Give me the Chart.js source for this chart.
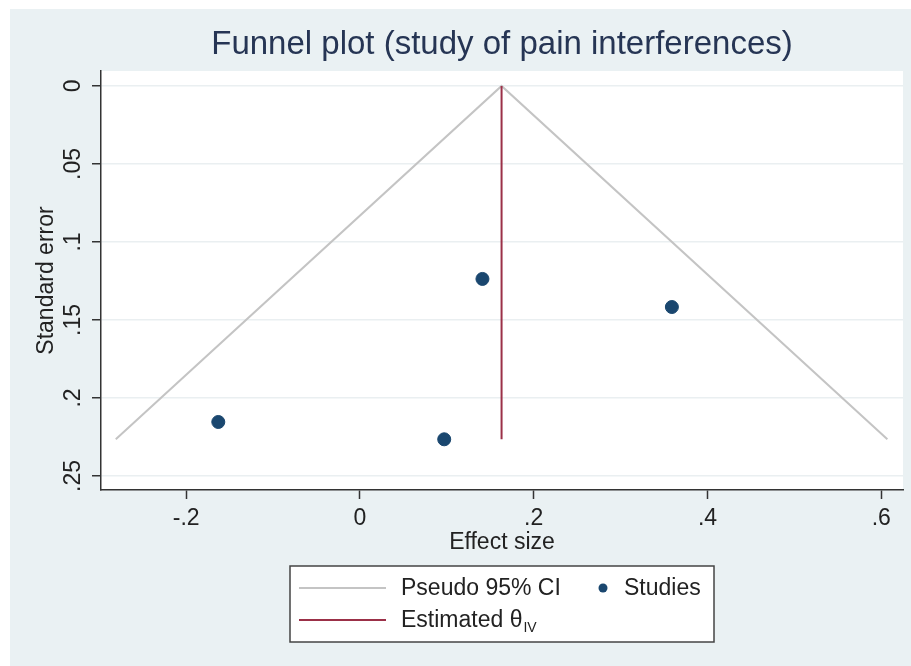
<!DOCTYPE html>
<html lang="en">
<head>
<meta charset="UTF-8">
<title>Funnel plot (study of pain interferences)</title>
<script src="https://cdn.jsdelivr.net/npm/chart.js"></script>
<style>
  body { margin: 0; background: #fff; }
  canvas { display: block; }
</style>
</head>
<body>
<canvas id="funnel" width="911" height="666"></canvas>
<script>
  // studies (effect size, standard error)
  const studyEffect = [0.141, 0.359, -0.163, 0.097];
  const studySE = [0.1237, 0.1417, 0.2154, 0.2265];
  // pseudo 95% CI: bottom-left, apex, bottom-right
  const ciEffect = [-0.281, 0.163, 0.607];
  const ciSE = [0.2265, 0, 0.2265];
  // estimated theta (IV)
  const estEffect = [0.163, 0.163];
  const estSE = [0, 0.2265];

  const xTicks = [-0.2, 0, 0.2, 0.4, 0.6];
  const xTickLabels = ['-.2', '0', '.2', '.4', '.6'];
  const yTicks = [0, 0.05, 0.1, 0.15, 0.2, 0.25];
  const yTickLabels = ['0', '.05', '.1', '.15', '.2', '.25'];

  const FONT = "'Liberation Sans', Arial, sans-serif";
  const NAVY = '#1A476F';
  const MAROON = '#9B3048';
  const CI_GREY = '#C4C4C4';
  const AXIS = '#333';

  Chart.defaults.font.family = FONT;
  Chart.defaults.color = '#222';

  const pts = (xs, ys) => xs.map((x, i) => ({ x: x, y: ys[i] }));

  const stata = {
    id: 'stata',
    beforeDraw(chart) {
      const { ctx, chartArea: a } = chart;
      ctx.save();
      ctx.fillStyle = '#fff';
      ctx.fillRect(0, 0, chart.width, chart.height);
      ctx.fillStyle = '#EAF1F3';
      ctx.fillRect(10, 9, chart.width - 10, chart.height - 9);
      ctx.fillStyle = '#fff';
      ctx.fillRect(a.left, a.top, a.right - a.left, a.bottom - a.top);
      ctx.restore();
    },
    afterDraw(chart) {
      const { ctx, chartArea: a } = chart;
      const cx = (a.left + a.right) / 2;
      ctx.save();

      // title
      ctx.fillStyle = '#263554';
      ctx.font = '33px ' + FONT;
      ctx.textAlign = 'center';
      ctx.textBaseline = 'middle';
      ctx.fillText('Funnel plot (study of pain interferences)', cx, 45);

      // y tick labels, rotated like Stata
      ctx.fillStyle = '#222';
      ctx.font = '23px ' + FONT;
      yTicks.forEach((v, i) => {
        const py = chart.scales.y.getPixelForValue(v);
        ctx.save();
        ctx.translate(a.left - 27, py);
        ctx.rotate(-Math.PI / 2);
        ctx.fillText(yTickLabels[i], 0, 0);
        ctx.restore();
      });

      // legend
      const bx = cx - 212, by = 566, bw = 424, bh = 76;
      ctx.fillStyle = '#fff';
      ctx.fillRect(bx, by, bw, bh);
      ctx.strokeStyle = '#444';
      ctx.lineWidth = 1.5;
      ctx.strokeRect(bx, by, bw, bh);

      const row1 = by + 22, row2 = by + 54;
      ctx.lineWidth = 2;
      ctx.strokeStyle = CI_GREY;
      ctx.beginPath(); ctx.moveTo(bx + 9, row1); ctx.lineTo(bx + 96, row1); ctx.stroke();
      ctx.strokeStyle = MAROON;
      ctx.beginPath(); ctx.moveTo(bx + 9, row2); ctx.lineTo(bx + 96, row2); ctx.stroke();

      ctx.fillStyle = NAVY;
      ctx.beginPath(); ctx.arc(bx + 313, row1, 4.5, 0, Math.PI * 2); ctx.fill();

      ctx.fillStyle = '#222';
      ctx.textAlign = 'left';
      ctx.font = '23px ' + FONT;
      ctx.fillText('Pseudo 95% CI', bx + 111, row1 + 1);
      ctx.fillText('Studies', bx + 334, row1 + 1);
      ctx.fillText('Estimated \u03B8', bx + 111, row2 + 1);
      const w = ctx.measureText('Estimated \u03B8').width;
      ctx.font = '14px ' + FONT;
      ctx.fillText('IV', bx + 111 + w + 1, row2 + 8);

      ctx.restore();
    }
  };

  new Chart(document.getElementById('funnel'), {
    type: 'scatter',
    data: {
      datasets: [
        {
          label: 'Studies',
          data: pts(studyEffect, studySE),
          backgroundColor: NAVY,
          borderColor: NAVY,
          pointRadius: 6.5,
          pointHoverRadius: 6.5
        },
        {
          label: 'Estimated θIV',
          data: pts(estEffect, estSE),
          showLine: true,
          borderColor: MAROON,
          borderWidth: 2,
          pointRadius: 0
        },
        {
          label: 'Pseudo 95% CI',
          data: pts(ciEffect, ciSE),
          showLine: true,
          borderColor: CI_GREY,
          borderWidth: 2,
          pointRadius: 0
        }
      ]
    },
    options: {
      responsive: false,
      animation: false,
      layout: { padding: { left: 10, top: 71, right: 8, bottom: 0 } },
      plugins: {
        legend: { display: false },
        tooltip: { enabled: false }
      },
      scales: {
        x: {
          type: 'linear',
          min: -0.298,
          max: 0.625,
          afterBuildTicks: s => { s.ticks = xTicks.map(v => ({ value: v })); },
          afterFit: s => { s.height = 176; },
          ticks: {
            callback: (v, i) => xTickLabels[i],
            font: { size: 23 },
            color: '#222',
            padding: 6,
            maxRotation: 0
          },
          grid: {
            drawOnChartArea: false,
            tickColor: AXIS,
            tickLength: 9,
            tickWidth: 1.5
          },
          border: { color: AXIS, width: 1.5 },
          title: {
            display: true,
            text: 'Effect size',
            font: { size: 23 },
            color: '#222',
            padding: { top: 0, bottom: 110 }
          }
        },
        y: {
          type: 'linear',
          reverse: true,
          min: -0.0096,
          max: 0.259,
          afterBuildTicks: s => { s.ticks = yTicks.map(v => ({ value: v })); },
          afterFit: s => { s.width = 91; },
          ticks: { display: false },
          grid: {
            color: '#EAEFF1',
            lineWidth: 1.5,
            tickColor: AXIS,
            tickLength: 9,
            tickWidth: 1.5
          },
          border: { color: AXIS, width: 1.5 },
          title: {
            display: true,
            text: 'Standard error',
            font: { size: 23 },
            color: '#222',
            padding: { top: 23, bottom: 0 }
          }
        }
      }
    },
    plugins: [stata]
  });
</script>
</body>
</html>
